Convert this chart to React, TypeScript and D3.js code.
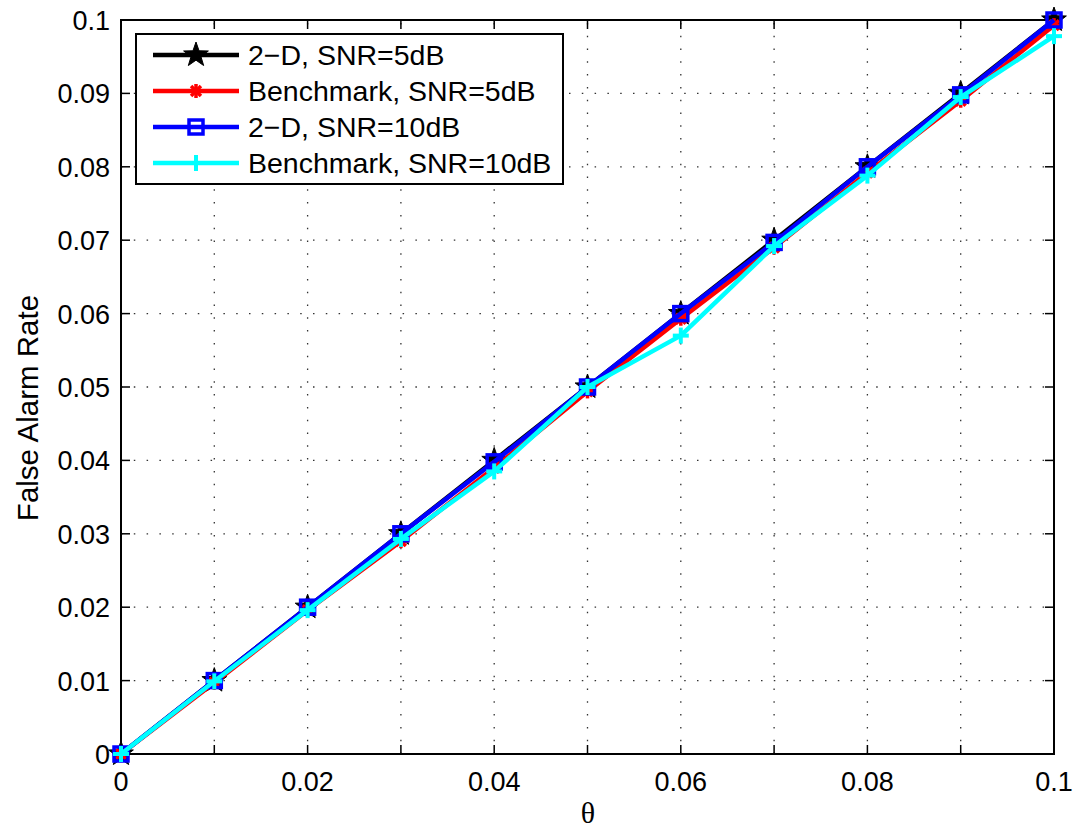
import React from "react";
import * as d3 from "d3";

const thetaValues = [0, 0.01, 0.02, 0.03, 0.04, 0.05, 0.06, 0.07, 0.08, 0.09, 0.1];
const twoD5dB = [0, 0.01, 0.02, 0.03, 0.04, 0.05, 0.06, 0.07, 0.08, 0.09, 0.1];
const bench5dB = [0, 0.0097, 0.0196, 0.029, 0.039, 0.0494, 0.0593, 0.069, 0.0792, 0.089, 0.0993];
const twoD10dB = [0, 0.01, 0.02, 0.03, 0.0398, 0.05, 0.06, 0.0697, 0.08, 0.0898, 0.1];
const bench10dB = [0, 0.0099, 0.0196, 0.0293, 0.0385, 0.05, 0.057, 0.0692, 0.0788, 0.0895, 0.0978];
const xTickLabels = ["0", "0.02", "0.04", "0.06", "0.08", "0.1"];
const yTickLabels = ["0", "0.01", "0.02", "0.03", "0.04", "0.05", "0.06", "0.07", "0.08", "0.09", "0.1"];

type Marker = "star" | "asterisk" | "square" | "plus";
const series: { name: string; values: number[]; color: string; marker: Marker }[] = [
  { name: "2\u2212D, SNR=5dB", values: twoD5dB, color: "#000000", marker: "star" },
  { name: "Benchmark, SNR=5dB", values: bench5dB, color: "#ff0000", marker: "asterisk" },
  { name: "2\u2212D, SNR=10dB", values: twoD10dB, color: "#0000ff", marker: "square" },
  { name: "Benchmark, SNR=10dB", values: bench10dB, color: "#00ffff", marker: "plus" },
];

const W = 1077;
const H = 831;
const left = 121, right = 1054, top = 20, bottom = 754;
const font = "'Liberation Sans', Arial, sans-serif";

function MarkerShape({ kind, x, y, color }: { kind: Marker; x: number; y: number; color: string }) {
  if (kind === "star") {
    const pts: [number, number][] = [];
    for (let i = 0; i < 10; i++) {
      const r = i % 2 === 0 ? 13 : 5.2;
      const a = -Math.PI / 2 + (i * Math.PI) / 5;
      pts.push([x + r * Math.cos(a), y + r * Math.sin(a)]);
    }
    return <polygon points={pts.map((p) => p.join(",")).join(" ")} fill={color} stroke={color} strokeWidth={1} />;
  }
  if (kind === "square") {
    return <rect x={x - 7} y={y - 7} width={14} height={14} fill="none" stroke={color} strokeWidth={3.5} />;
  }
  if (kind === "plus") {
    return (
      <g stroke={color} strokeWidth={4}>
        <line x1={x - 8} y1={y} x2={x + 8} y2={y} />
        <line x1={x} y1={y - 8} x2={x} y2={y + 8} />
      </g>
    );
  }
  // asterisk
  const lines = [0, 45, 90, 135].map((deg) => {
    const a = (deg * Math.PI) / 180;
    const r = 7;
    return (
      <line key={deg} x1={x - r * Math.cos(a)} y1={y - r * Math.sin(a)} x2={x + r * Math.cos(a)} y2={y + r * Math.sin(a)} />
    );
  });
  return <g stroke={color} strokeWidth={3.5}>{lines}</g>;
}

export default function App() {
  const x = d3.scaleLinear().domain([0, 0.1]).range([left, right]);
  const y = d3.scaleLinear().domain([0, 0.1]).range([bottom, top]);
  const xTicks = d3.range(0, 11).map((i) => i * 0.01);
  const yTicks = d3.range(0, 11).map((i) => i * 0.01);
  const line = d3
    .line<number>()
    .x((_, i) => x(thetaValues[i]))
    .y((d) => y(d));

  const legX = 136, legY = 34, legW = 427, legH = 150;
  const rowY = (i: number) => legY + 21 + i * 36;

  return (
    <svg width={W} height={H} style={{ position: "absolute", left: 0, top: 0, background: "#fff" }}>
      <rect width={W} height={H} fill="#fff" />
      {/* dotted grid */}
      <g stroke="#000" strokeWidth={1.3} strokeDasharray="1.5,11.3" opacity={0.8}>
        {xTicks.slice(1, -1).map((t) => (
          <line key={"gx" + t} x1={x(t)} x2={x(t)} y1={bottom} y2={top} />
        ))}
        {yTicks.slice(1, -1).map((t) => (
          <line key={"gy" + t} x1={left} x2={right} y1={y(t)} y2={y(t)} />
        ))}
      </g>
      {/* tick marks on all four sides */}
      <g stroke="#000" strokeWidth={1.5}>
        {xTicks.map((t) => (
          <g key={"tx" + t}>
            <line x1={x(t)} x2={x(t)} y1={bottom} y2={bottom - 9} />
            <line x1={x(t)} x2={x(t)} y1={top} y2={top + 9} />
          </g>
        ))}
        {yTicks.map((t) => (
          <g key={"ty" + t}>
            <line x1={left} x2={left + 9} y1={y(t)} y2={y(t)} />
            <line x1={right} x2={right - 9} y1={y(t)} y2={y(t)} />
          </g>
        ))}
      </g>
      <rect x={left} y={top} width={right - left} height={bottom - top} fill="none" stroke="#000" strokeWidth={2} />
      {/* tick labels */}
      <g fontFamily={font} fontSize={27} fill="#000">
        {xTickLabels.map((lab) => (
          <text key={"xl" + lab} x={x(+lab)} y={791} textAnchor="middle">
            {lab}
          </text>
        ))}
        {yTickLabels.map((lab) => (
          <text key={"yl" + lab} x={110} y={y(+lab) + 10} textAnchor="end">
            {lab}
          </text>
        ))}
      </g>
      <text x={588} y={823} textAnchor="middle" fontFamily="'Liberation Serif', 'Times New Roman', serif" fontSize={30}>
        θ
      </text>
      <text
        transform={`translate(38, 408) rotate(-90)`}
        textAnchor="middle"
        fontFamily={font}
        fontSize={29.5}
      >
        False Alarm Rate
      </text>
      {/* series */}
      {series.map((s) => (
        <g key={s.name}>
          <path d={line(s.values) || ""} fill="none" stroke={s.color} strokeWidth={4.5} strokeLinejoin="round" />
          {s.values.map((v, i) => (
            <MarkerShape key={i} kind={s.marker} x={x(thetaValues[i])} y={y(v)} color={s.color} />
          ))}
        </g>
      ))}
      {/* legend */}
      <rect x={legX} y={legY} width={legW} height={legH} fill="#fff" stroke="#000" strokeWidth={2} />
      {series.map((s, i) => (
        <g key={"leg" + s.name}>
          <line x1={153} x2={239} y1={rowY(i)} y2={rowY(i)} stroke={s.color} strokeWidth={4.5} />
          <MarkerShape kind={s.marker} x={196} y={rowY(i)} color={s.color} />
          <text x={248} y={rowY(i) + 10} fontFamily={font} fontSize={28.5} fill="#000">
            {s.name}
          </text>
        </g>
      ))}
    </svg>
  );
}
